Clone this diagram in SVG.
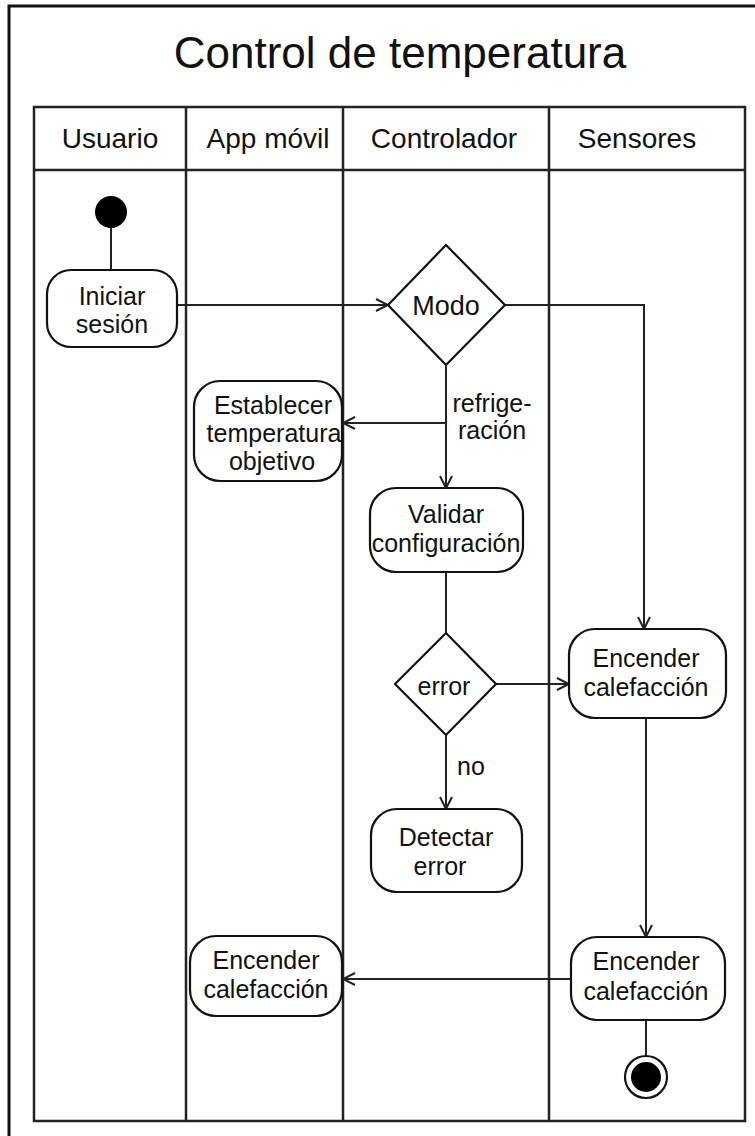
<svg xmlns="http://www.w3.org/2000/svg" width="755" height="1136" viewBox="0 0 755 1136">
<style>
  text { font-family: "Liberation Sans", Arial, sans-serif; fill: #111; text-anchor: middle; }
  .title { font-size: 44px; }
  .lane { font-size: 28px; }
  .nt { font-size: 25px; }
  .lbl { font-size: 25px; }
  .node { fill: #fff; stroke: #111; stroke-width: 2.2; }
  .frame { fill: none; stroke: #111; stroke-width: 3; }
  .lanes { fill: none; stroke: #222; stroke-width: 2.5; }
  .edge { fill: none; stroke: #222; stroke-width: 2; }
</style>
<defs>
  <marker id="arr" viewBox="0 0 14 14" refX="13" refY="7" markerWidth="14" markerHeight="14" markerUnits="userSpaceOnUse" orient="auto">
    <path d="M1,1 L13,7 L1,13" fill="none" stroke="#222" stroke-width="2"/>
  </marker>
</defs>
<rect width="755" height="1136" fill="#fff"/>
<g id="frame">
  <rect class="frame" x="9" y="6" width="770" height="1150"/>
  <text class="title" x="400" y="68">Control de temperatura</text>
</g>
<g id="swimlanes">
  <rect class="lanes" x="34" y="107" width="711" height="1014"/>
  <line class="lanes" x1="34" y1="170" x2="745" y2="170"/>
  <line class="lanes" x1="186" y1="107" x2="186" y2="1121"/>
  <line class="lanes" x1="343" y1="107" x2="343" y2="1121"/>
  <line class="lanes" x1="549" y1="107" x2="549" y2="1121"/>
  <text class="lane" x="110" y="148">Usuario</text>
  <text class="lane" x="268" y="148">App móvil</text>
  <text class="lane" x="444" y="148">Controlador</text>
  <text class="lane" x="637" y="148">Sensores</text>
</g>
<g id="connectors">
  <line class="edge" x1="111" y1="228" x2="111" y2="270"/>
  <line class="edge" x1="177" y1="305" x2="388" y2="305" marker-end="url(#arr)"/>
  <polyline class="edge" points="505,305 644,305 644,629" marker-end="url(#arr)"/>
  <line class="edge" x1="446" y1="365" x2="446" y2="488" marker-end="url(#arr)"/>
  <line class="edge" x1="446" y1="423" x2="343" y2="423" marker-end="url(#arr)"/>
  <line class="edge" x1="446" y1="572" x2="446" y2="633"/>
  <line class="edge" x1="496" y1="684" x2="569" y2="684" marker-end="url(#arr)"/>
  <line class="edge" x1="446" y1="735" x2="446" y2="809" marker-end="url(#arr)"/>
  <line class="edge" x1="646" y1="718" x2="646" y2="937" marker-end="url(#arr)"/>
  <line class="edge" x1="571" y1="979" x2="343" y2="979" marker-end="url(#arr)"/>
  <line class="edge" x1="646" y1="1020" x2="646" y2="1056"/>
  <text class="lbl" x="492" y="412">refrige-</text>
  <text class="lbl" x="492" y="439">ración</text>
  <text class="lbl" x="471" y="775">no</text>
</g>
<g id="start">
  <circle cx="111" cy="212" r="16" fill="#000"/>
</g>
<g id="iniciar">
  <rect class="node" x="47" y="270" width="130" height="77" rx="24"/>
  <text class="nt" x="112" y="305">Iniciar</text>
  <text class="nt" x="112" y="333">sesión</text>
</g>
<g id="modo">
  <polygon class="node" points="446,245 505,305 446,365 388,305"/>
  <text class="nt" x="446" y="315" style="font-size:27px">Modo</text>
</g>
<g id="establecer">
  <rect class="node" x="194" y="381" width="148" height="100" rx="26"/>
  <text class="nt" x="273" y="414">Establecer</text>
  <text class="nt" x="274" y="442">temperatura</text>
  <text class="nt" x="272" y="470">objetivo</text>
</g>
<g id="validar">
  <rect class="node" x="370" y="488" width="153" height="84" rx="26"/>
  <text class="nt" x="446" y="523">Validar</text>
  <text class="nt" x="446" y="552">configuración</text>
</g>
<g id="error">
  <polygon class="node" points="446,633 496,684 446,735 395,684"/>
  <text class="nt" x="444" y="695">error</text>
</g>
<g id="encender1">
  <rect class="node" x="569" y="629" width="157" height="89" rx="26"/>
  <text class="nt" x="646" y="667">Encender</text>
  <text class="nt" x="646" y="696">calefacción</text>
</g>
<g id="detectar">
  <rect class="node" x="371" y="809" width="151" height="83" rx="26"/>
  <text class="nt" x="446" y="846">Detectar</text>
  <text class="nt" x="440" y="875">error</text>
</g>
<g id="encender2">
  <rect class="node" x="571" y="937" width="154" height="83" rx="26"/>
  <text class="nt" x="646" y="970">Encender</text>
  <text class="nt" x="646" y="1000">calefacción</text>
</g>
<g id="encenderApp">
  <rect class="node" x="190" y="936" width="152" height="80" rx="26"/>
  <text class="nt" x="266" y="969">Encender</text>
  <text class="nt" x="266" y="998">calefacción</text>
</g>
<g id="end">
  <circle cx="646" cy="1077" r="21" fill="#fff" stroke="#111" stroke-width="2.2"/>
  <circle cx="646" cy="1077" r="15" fill="#000"/>
</g>
</svg>
